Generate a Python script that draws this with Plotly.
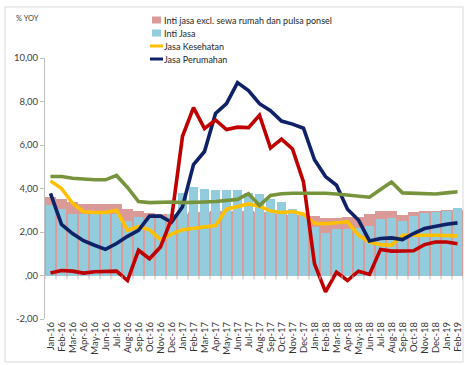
import plotly.graph_objects as go

months = ["Jan-16","Feb-16","Mar-16","Apr-16","May-16","Jun-16","Jul-16","Aug-16","Sep-16","Oct-16",
          "Nov-16","Dec-16","Jan-17","Feb-17","Mar-17","Apr-17","May-17","Jun-17","Jul-17","Aug-17",
          "Sep-17","Oct-17","Nov-17","Dec-17","Jan-18","Feb-18","Mar-18","Apr-18","May-18","Jun-18",
          "Jul-18","Aug-18","Sep-18","Oct-18","Nov-18","Dec-18","Jan-19","Feb-19"]

inti_excl = [3.6, 3.5, 3.38, 3.3, 3.28, 3.28, 3.28, 3.05, 2.95, 2.88, 2.85, 2.85, 2.85, 2.9, 2.9, 2.95,
             2.95, 2.95, 2.95, 2.9, 2.9, 2.85, 2.8, 2.8, 2.75, 2.65, 2.65, 2.7, 2.7, 2.85, 2.95, 2.95,
             2.8, 2.9, 2.95, 2.95, 3.0, 3.0]
inti_jasa = [3.22, 3.08, 2.85, 2.85, 2.85, 2.85, 2.85, 2.52, 2.7, 2.7, 2.68, 2.85, 3.78, 4.06, 3.96, 3.95,
             3.93, 3.93, 3.8, 3.73, 3.52, 3.36, 3.06, 2.87, 2.25, 1.96, 2.12, 2.16, 2.2, 2.27, 2.62, 2.65,
             2.52, 2.73, 2.89, 2.9, 2.96, 3.12]
kesehatan = [4.35, 4.0, 3.32, 2.93, 2.9, 2.9, 3.0, 2.08, 2.25, 2.1, 1.65, 1.9, 2.1, 2.18, 2.24, 2.3,
             3.05, 3.19, 3.29, 3.19, 2.96, 2.9, 2.94, 2.82, 2.4, 2.38, 2.44, 2.47, 1.85, 1.54, 1.42, 1.4,
             1.85, 1.83, 1.85, 1.85, 1.85, 1.82]
perumahan = [3.78, 2.35, 1.93, 1.6, 1.39, 1.2, 1.47, 1.8, 2.08, 2.73, 2.73, 2.45, 3.16, 5.1, 5.7, 7.45,
             7.9, 8.87, 8.5, 7.9, 7.58, 7.1, 6.96, 6.77, 5.32, 4.55, 4.15, 3.05, 2.55, 1.59, 1.7, 1.73,
             1.65, 1.93, 2.16, 2.27, 2.36, 2.42]
series_red = [0.11, 0.23, 0.2, 0.11, 0.17, 0.17, 0.2, -0.23, 1.16, 0.77, 1.31, 2.6, 6.4, 7.72, 6.76, 7.15,
              6.71, 6.82, 6.8, 7.37, 5.86, 6.27, 5.82, 4.3, 0.54, -0.75, 0.15, -0.23, 0.2, 0.05, 1.2, 1.12,
              1.12, 1.14, 1.42, 1.54, 1.54, 1.46]
series_green = [4.55, 4.55, 4.47, 4.42, 4.4, 4.4, 4.6, 4.05, 3.4, 3.35, 3.38, 3.38, 3.35, 3.35, 3.38, 3.4,
                3.43, 3.5, 3.76, 3.22, 3.68, 3.76, 3.78, 3.78, 3.8, 3.78, 3.75, 3.7, 3.65, 3.6, 3.95, 4.3,
                3.8, 3.78, 3.76, 3.75, 3.8, 3.85]

ytick_vals = [-2, 0, 2, 4, 6, 8, 10]
ytick_text = ["-2,00", ",00", "2,00", "4,00", "6,00", "8,00", "10,00"]

legend_names = ["Inti jasa excl. sewa rumah dan pulsa ponsel", "Inti Jasa", "Jasa Kesehatan", "Jasa Perumahan"]

C_PINK = "#D99A98"
C_BLUE = "#93CDDD"
C_YEL = "#FFC000"
C_NAVY = "#0F2167"
C_RED = "#C00000"
C_GREEN = "#77933C"
FONT = "Lato"

W, H = 465, 365
L, R, T, B = 45, 2, 58, 46
PW, PH = W - L - R, H - T - B

def px(x):
    return (x - L) / PW

def py(y):
    return (H - B - y) / PH

fig = go.Figure()
fig.add_trace(go.Bar(x=months, y=inti_excl, marker=dict(color=C_PINK, line=dict(width=0)),
                     width=1.0, showlegend=False))
fig.add_trace(go.Bar(x=months, y=inti_jasa, marker=dict(color=C_BLUE, line=dict(width=0)),
                     width=0.88, showlegend=False))
for vals, col in [(kesehatan, C_YEL), (perumahan, C_NAVY), (series_red, C_RED), (series_green, C_GREEN)]:
    fig.add_trace(go.Scatter(x=months, y=vals, mode="lines", line=dict(color=col, width=3.6),
                             showlegend=False))

shapes = []
shapes.append(dict(type="rect", xref="paper", yref="paper", x0=px(5), x1=px(463), y0=py(362), y1=py(7),
                   line=dict(color="#D9D9D9", width=1), fillcolor="rgba(0,0,0,0)", layer="below"))
for i in range(len(months) + 1):
    shapes.append(dict(type="line", xref="x", yref="y", x0=i - 0.5, x1=i - 0.5, y0=0, y1=-0.18,
                       line=dict(color="#BFBFBF", width=1)))

annotations = [dict(text="% YOY", xref="paper", yref="paper", x=px(14), y=py(18), xanchor="left",
                    yanchor="middle", showarrow=False, font=dict(family=FONT, size=7.5, color="#404040"))]

leg_y = [20, 33, 46, 59]
leg_kind = [("box", C_PINK), ("box", C_BLUE), ("line", C_YEL), ("line", C_NAVY)]
for name, yy, (kind, col) in zip(legend_names, leg_y, leg_kind):
    if kind == "box":
        shapes.append(dict(type="rect", xref="paper", yref="paper", x0=px(152), x1=px(161),
                           y0=py(yy + 3.5), y1=py(yy - 3.5), fillcolor=col, line=dict(width=0)))
    else:
        shapes.append(dict(type="line", xref="paper", yref="paper", x0=px(150), x1=px(163),
                           y0=py(yy), y1=py(yy), line=dict(color=col, width=3)))
    annotations.append(dict(text=name, xref="paper", yref="paper", x=px(162), y=py(yy), xanchor="left",
                            yanchor="middle", showarrow=False,
                            font=dict(family=FONT, size=9, color="#262626")))

fig.update_layout(
    width=W, height=H,
    margin=dict(l=L, r=R, t=T, b=B, pad=0),
    paper_bgcolor="white", plot_bgcolor="white",
    barmode="overlay", bargap=0,
    showlegend=False,
    shapes=shapes, annotations=annotations,
    xaxis=dict(type="category", range=[-0.5, len(months) - 0.5], tickangle=-90, showgrid=False,
               showline=False, ticks="", zeroline=False,
               tickfont=dict(family=FONT, size=9.5, color="#333333")),
    yaxis=dict(range=[-2, 10], tickvals=ytick_vals, ticktext=ytick_text, showgrid=False,
               showline=True, linecolor="#BFBFBF", linewidth=1, ticks="outside", ticklen=4,
               tickcolor="#BFBFBF", zeroline=True, zerolinecolor="#BFBFBF", zerolinewidth=1,
               tickfont=dict(family=FONT, size=9.5, color="#404040")),
)

fig.write_html("out.html")
